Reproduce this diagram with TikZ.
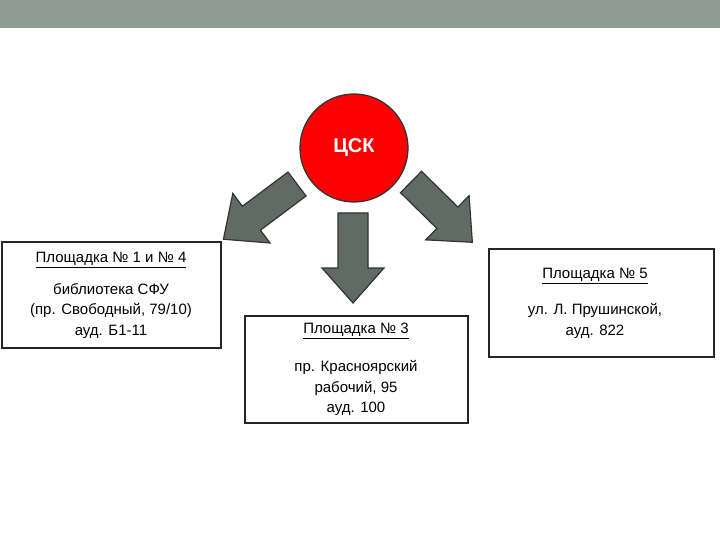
\documentclass[tikz,border=0pt]{standalone}
\usepackage{fontspec}
\setmainfont{Liberation Sans}
\begin{document}
\begin{tikzpicture}[x=1pt,y=-1pt,
  box/.style={draw=black!85,line width=1.3pt,fill=white},
  blk/.style={draw=black!80,fill=arrowgray,line width=1.2pt,line join=miter},
  t/.style={font=\fontsize{15}{20.5}\selectfont,align=center,inner sep=0pt}]
\definecolor{arrowgray}{HTML}{5F6B64}
\definecolor{bar}{HTML}{8E9A94}
\useasboundingbox (0,0) rectangle (720,540);
\fill[bar] (0,0) rectangle (720,28);
\def\barrow#1#2#3{\begin{scope}[shift={(#1)},rotate=#2]
  \draw[blk] (0,-15) -- (#3-35,-15) -- (#3-35,-31) -- (#3,0) -- (#3-35,31) -- (#3-35,15) -- (0,15) -- cycle;
\end{scope}}
\barrow{297,184}{216.9}{92}
\barrow{353,213}{-90}{90}
\barrow{411,182}{-44.5}{86}
\node[circle,draw=black!80,line width=1.3pt,fill=red,minimum size=108pt,text=white,font=\fontsize{20}{24}\selectfont\bfseries] (c) at (354,148) {ЦСК};
\draw[box] (2,242) rectangle (221,348);
\node[t] (b1h) at (111,260) {\underline{Площадка № 1 и № 4}};
\node[t] (b1) at (111,311) {библиотека СФУ\\(пр. Свободный, 79/10)\\ауд. Б1-11};
\draw[box] (245,316) rectangle (468,423);
\node[t] (b3h) at (356,331) {\underline{Площадка № 3}};
\node[t] (b3) at (356,388) {пр. Красноярский\\рабочий, 95\\ауд. 100};
\draw[box] (489,249) rectangle (714,357);
\node[t] (b5h) at (595,276) {\underline{Площадка № 5}};
\node[t] (b5) at (595,321) {ул. Л. Прушинской,\\ауд. 822};
\end{tikzpicture}
\end{document}
